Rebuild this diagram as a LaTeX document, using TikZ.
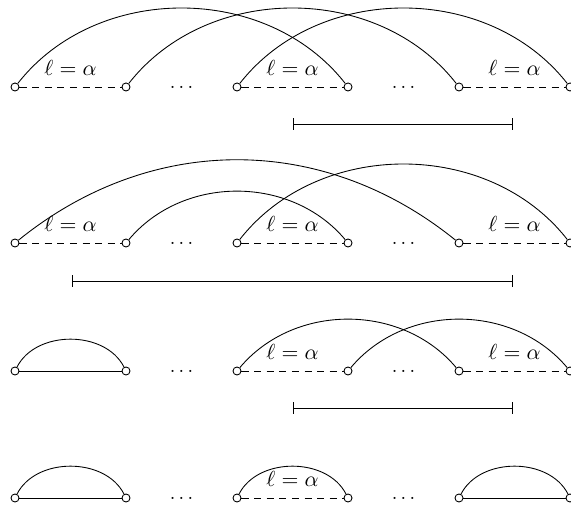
\documentclass[tikz,border=0pt]{standalone}
\usetikzlibrary{arrows.meta}
\begin{document}
\begin{tikzpicture}[x=0.46pt,y=0.46pt,
  vtx/.style={circle,draw,fill=white,inner sep=0pt,minimum size=3.7pt},
  dsh/.style={dash pattern=on 3.3pt off 2.5pt},
  lbl/.style={anchor=base,inner sep=0pt},
  dts/.style={inner sep=0pt,font=\small},
  spanbar/.style={{Bar[width=5.5pt]}-{Bar[width=5.5pt]}}]
\useasboundingbox (0,0) rectangle (571,507);
% vertices
\foreach \r/\y in {a/420,b/264,c/136,d/9}{
  \foreach \i/\x in {1/15,2/126,3/237,4/348,5/459,6/570}{
    \node[vtx] (\r\i) at (\x,\y) {};
  }
}
% ---------- row 1
\draw[dsh] (a1) -- (a2);
\draw[dsh] (a3) -- (a4);
\draw[dsh] (a5) -- (a6);
\draw (a1) to[out=52,in=128] (a4);
\draw (a2) to[out=52,in=128] (a5);
\draw (a3) to[out=52,in=128] (a6);
\node[lbl] (la1) at (70.5,431) {$\ell=\alpha$};
\node[lbl] (la2) at (292.5,431) {$\ell=\alpha$};
\node[lbl] (la3) at (514.5,431) {$\ell=\alpha$};
\node[dts] (da1) at (181.5,420) {$\ldots$};
\node[dts] (da2) at (403.5,420) {$\ldots$};
\coordinate (sa1) at (293,383);
\coordinate (sa2) at (513,383);
\draw[spanbar] (sa1) -- (sa2);
% ---------- row 2
\draw[dsh] (b1) -- (b2);
\draw[dsh] (b3) -- (b4);
\draw[dsh] (b5) -- (b6);
\draw (b1) to[out=39,in=141] (b5);
\draw (b2) to[out=50,in=130] (b4);
\draw (b3) to[out=52,in=128] (b6);
\node[lbl] (lb1) at (70.5,275) {$\ell=\alpha$};
\node[lbl] (lb2) at (292.5,275) {$\ell=\alpha$};
\node[lbl] (lb3) at (514.5,275) {$\ell=\alpha$};
\node[dts] (db1) at (181.5,264) {$\ldots$};
\node[dts] (db2) at (403.5,264) {$\ldots$};
\coordinate (sb1) at (72,226);
\coordinate (sb2) at (513,226);
\draw[spanbar] (sb1) -- (sb2);
% ---------- row 3
\draw (c1) -- (c2);
\draw (c1) to[out=63,in=117] (c2);
\draw[dsh] (c3) -- (c4);
\draw[dsh] (c5) -- (c6);
\draw (c3) to[out=50,in=130] (c5);
\draw (c4) to[out=50,in=130] (c6);
\node[lbl] (lc2) at (292.5,147) {$\ell=\alpha$};
\node[lbl] (lc3) at (514.5,147) {$\ell=\alpha$};
\node[dts] (dc1) at (181.5,136) {$\ldots$};
\node[dts] (dc2) at (403.5,136) {$\ldots$};
\coordinate (sc1) at (293,99);
\coordinate (sc2) at (513,99);
\draw[spanbar] (sc1) -- (sc2);
% ---------- row 4
\draw (d1) -- (d2);
\draw (d1) to[out=63,in=117] (d2);
\draw[dsh] (d3) -- (d4);
\draw (d3) to[out=63,in=117] (d4);
\draw (d5) -- (d6);
\draw (d5) to[out=63,in=117] (d6);
\node[lbl] (ld2) at (292.5,20) {$\ell=\alpha$};
\node[dts] (dd1) at (181.5,9) {$\ldots$};
\node[dts] (dd2) at (403.5,9) {$\ldots$};
\end{tikzpicture}
\end{document}
